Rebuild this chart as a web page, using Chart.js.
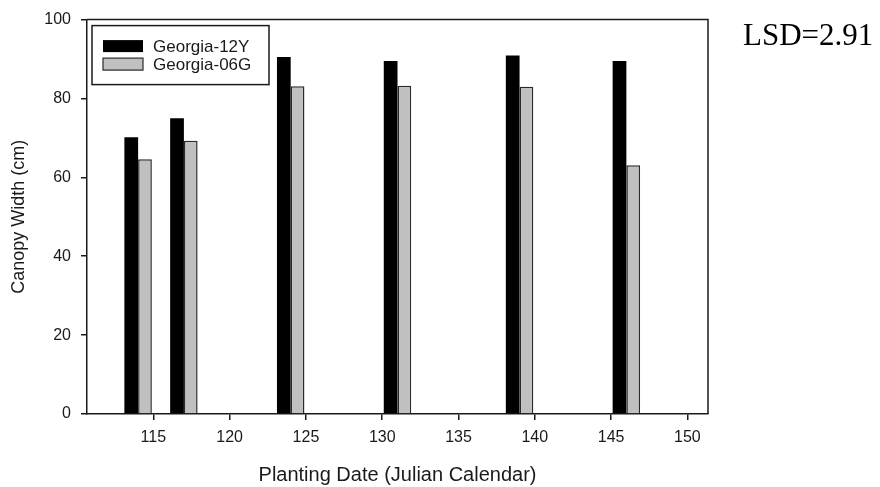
<!DOCTYPE html>
<html>
<head>
<meta charset="utf-8">
<script src="https://cdn.jsdelivr.net/npm/chart.js@4/dist/chart.umd.min.js"></script>
<style>
  html, body { margin: 0; padding: 0; background: #fff; }
  #wrap { width: 880px; height: 487px; position: relative; }
</style>
</head>
<body>
<div id="wrap"><canvas id="chart"></canvas></div>
<script>
// Planting dates (Julian day) and canopy width (cm) per cultivar
const plantingDates = [114, 117, 124, 131, 139, 146];
const georgia12Y = [70.2, 75.0, 90.5, 89.5, 90.9, 89.5];
const georgia06G = [64.6, 69.3, 83.1, 83.2, 83.0, 63.1];
const seriesNames = ['Georgia-12Y', 'Georgia-06G'];
const xTickValues = [115, 120, 125, 130, 135, 140, 145, 150];
const yTickValues = [0, 20, 40, 60, 80, 100];
const lsdText = 'LSD=2.91';

const SANS = "'Liberation Sans', Arial, sans-serif";
const INK = '#1a1a1a';

const toPoints = vals => plantingDates.map((d, i) => ({ x: d, y: vals[i] }));

// Outline the top and right edges of the plot area
const framePlugin = {
  id: 'frame',
  afterDraw(chart) {
    const { ctx, chartArea: a } = chart;
    ctx.save();
    ctx.strokeStyle = INK;
    ctx.lineWidth = 1.5;
    ctx.beginPath();
    ctx.moveTo(a.left, a.top);
    ctx.lineTo(a.right, a.top);
    ctx.lineTo(a.right, a.bottom);
    ctx.stroke();
    ctx.restore();
  }
};

// Boxed legend in the upper-left corner of the plot
const boxLegendPlugin = {
  id: 'boxLegend',
  afterDraw(chart) {
    const { ctx, chartArea: a } = chart;
    const x0 = a.left + 5, y0 = a.top + 6, w = 177, h = 59;
    ctx.save();
    ctx.fillStyle = '#fff';
    ctx.fillRect(x0, y0, w, h);
    ctx.strokeStyle = INK;
    ctx.lineWidth = 1.5;
    ctx.strokeRect(x0, y0, w, h);
    ctx.font = '17px ' + SANS;
    ctx.textBaseline = 'middle';
    chart.data.datasets.forEach((ds, i) => {
      const cy = y0 + 20.5 + i * 18;
      const sx = x0 + 11, sw = 40, sh = 12;
      ctx.fillStyle = ds.backgroundColor;
      ctx.fillRect(sx, cy - sh / 2, sw, sh);
      if (ds.borderWidth) {
        ctx.strokeStyle = ds.borderColor;
        ctx.lineWidth = 1.2;
        ctx.strokeRect(sx, cy - sh / 2, sw, sh);
      }
      ctx.fillStyle = INK;
      ctx.fillText(ds.label, x0 + 61, cy + 1);
    });
    ctx.restore();
  }
};

// Least significant difference note at the upper right
const lsdPlugin = {
  id: 'lsdNote',
  afterDraw(chart) {
    const { ctx } = chart;
    ctx.save();
    ctx.font = "31px 'Liberation Serif', 'Times New Roman', serif";
    ctx.fillStyle = '#000';
    ctx.textBaseline = 'alphabetic';
    ctx.fillText(lsdText, 743, 45);
    ctx.restore();
  }
};

new Chart(document.getElementById('chart'), {
  type: 'bar',
  data: {
    datasets: [
      {
        label: seriesNames[0],
        data: toPoints(georgia12Y),
        backgroundColor: '#000000',
        borderWidth: 0,
        categoryPercentage: 0.6,
        barPercentage: 1.0
      },
      {
        label: seriesNames[1],
        data: toPoints(georgia06G),
        backgroundColor: '#c0c0c0',
        borderColor: '#2a2a2a',
        borderWidth: 1.5,
        categoryPercentage: 0.6,
        barPercentage: 1.0
      }
    ]
  },
  options: {
    responsive: true,
    maintainAspectRatio: false,
    animation: false,
    layout: { padding: { left: 0, right: 172, top: 13, bottom: 0 } },
    plugins: {
      legend: { display: false },
      tooltip: { enabled: false }
    },
    scales: {
      x: {
        type: 'linear',
        min: 110.65,
        max: 151.35,
        offset: false,
        afterBuildTicks: s => { s.ticks = xTickValues.map(v => ({ value: v })); },
        afterFit: s => { s.height = 73; },
        grid: { offset: false, drawOnChartArea: false, tickLength: 6, color: INK, lineWidth: 1.5 },
        border: { display: true, color: INK, width: 1.5 },
        ticks: { color: INK, padding: 8, maxRotation: 0, font: { family: SANS, size: 16 } },
        title: {
          display: true,
          text: 'Planting Date (Julian Calendar)',
          color: INK,
          font: { family: SANS, size: 20 },
          padding: { top: 0, bottom: 0 }
        }
      },
      y: {
        type: 'linear',
        min: 0,
        max: 100,
        afterBuildTicks: s => { s.ticks = yTickValues.map(v => ({ value: v })); },
        afterFit: s => { s.width = 87; },
        grid: { drawOnChartArea: false, tickLength: 6, color: INK, lineWidth: 1.5 },
        border: { display: true, color: INK, width: 1.5 },
        ticks: { color: INK, padding: 10, font: { family: SANS, size: 16 } },
        title: {
          display: true,
          text: 'Canopy Width (cm)',
          color: INK,
          font: { family: SANS, size: 18 },
          padding: { top: 8, bottom: 0 }
        }
      }
    }
  },
  plugins: [framePlugin, boxLegendPlugin, lsdPlugin]
});
</script>
</body>
</html>
